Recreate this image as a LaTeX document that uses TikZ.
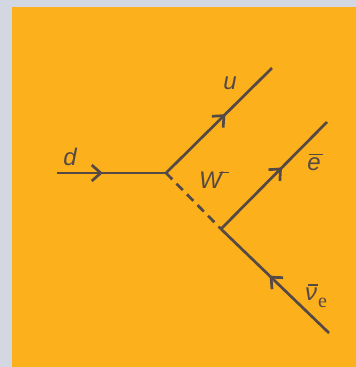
\documentclass[tikz,border=0pt]{standalone}
\usepackage{fontspec}
\setmainfont{Liberation Sans}
\newfontfamily\serifsub{Liberation Serif}
\usetikzlibrary{decorations.markings,arrows.meta}
\definecolor{bordercol}{HTML}{D3D7E2}
\definecolor{orangebg}{HTML}{FCB01B}
\definecolor{linecol}{HTML}{554946}
\begin{document}
\begin{tikzpicture}[x=1pt,y=-1pt,
  particle/.style={draw=linecol,line width=2.7pt},
  fermion/.style={particle,postaction={decorate},
    decoration={markings,mark=at position #1 with {\arrow{Straight Barb[length=9pt,width=16pt,line width=2.7pt]}}}},
  boson/.style={particle,dash pattern=on 9pt off 6pt},
  lbl/.style={text=linecol,font=\fontsize{24}{28}\selectfont\itshape,inner sep=0pt}]
\fill[bordercol] (0,0) rectangle (356,367);
\fill[orangebg] (12,7) rectangle (356,367);
\useasboundingbox (0,0) rectangle (356,367);
\coordinate (dstart) at (57,173);
\coordinate (v1) at (166,173);
\coordinate (uend) at (272,68);
\coordinate (v2) at (221,229);
\coordinate (eend) at (327,122);
\coordinate (nuend) at (329,333);
\draw[fermion=0.42] (dstart) -- (v1);
\draw[fermion=0.56] (v1) -- (uend);
\draw[boson] (v1) -- (v2);
\draw[fermion=0.575] (v2) -- (eend);
\draw[fermion=0.55] (nuend) -- (v2);
\node[lbl] (dlab) at (70,157) {d};
\node[lbl] (ulab) at (230,83) {u};
\node[lbl] (wlab) at (214,180) {W\kern-3pt\raisebox{0.62em}{\upshape\rule{10pt}{1.8pt}}};
\node[lbl] (elab) at (315,162) {e\kern-12pt\raisebox{0.62em}{\upshape\rule{14pt}{1.8pt}}};
\node[lbl] (nulab) at (316,296) {\rlap{\kern3pt\raisebox{0.6em}{\upshape\rule{10pt}{1.8pt}}}ν\kern1pt\raisebox{-0.3em}{\upshape\serifsub\fontsize{20}{24}\selectfont e}};
\end{tikzpicture}
\end{document}
